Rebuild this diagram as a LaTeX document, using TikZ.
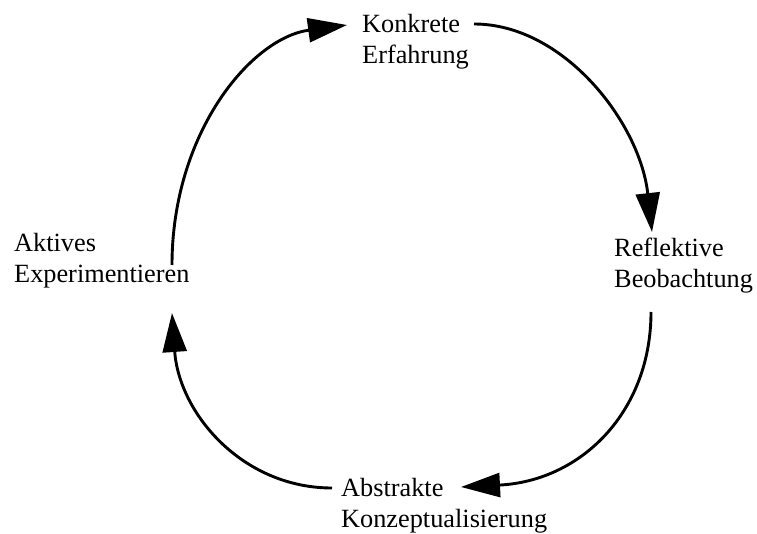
\documentclass[tikz,border=0pt]{standalone}
\usepackage{fontspec}
\setmainfont{Liberation Serif}
\usetikzlibrary{arrows.meta}
\begin{document}
\begin{tikzpicture}[x=1pt,y=1pt,
  lbl/.style={anchor=base west,inner sep=0pt,align=left,font=\fontsize{26.3}{31}\selectfont},
  cyc/.style={line width=2.9pt,-{Triangle[length=39pt,width=24pt]}}]
\useasboundingbox (0,0) rectangle (757,533);
\node[lbl] (K) at (362,469) {Konkrete\\Erfahrung};
\node[lbl] (R) at (614,245) {Reflektive\\Beobachtung};
\node[lbl] (A) at (341,6) {Abstrakte\\Konzeptualisierung};
\node[lbl] (E) at (14,250) {Aktives\\Experimentieren};
\coordinate (Kout) at (474,509);
\coordinate (Kin) at (347,508);
\coordinate (Rin) at (652,301);
\coordinate (Rout) at (651,221);
\coordinate (Ain) at (461,46);
\coordinate (Aout) at (332,45);
\coordinate (Ein) at (172,220);
\coordinate (Eout) at (172,268);
\draw[cyc] (Kout) .. controls (564,509) and (640,410) .. (Rin);
\draw[cyc] (Rout) .. controls (651,121) and (581,52) .. (Ain);
\draw[cyc] (Aout) .. controls (242,45) and (179,120) .. (Ein);
\draw[cyc] (Eout) .. controls (172,400) and (251,495) .. (Kin);
\end{tikzpicture}
\end{document}
